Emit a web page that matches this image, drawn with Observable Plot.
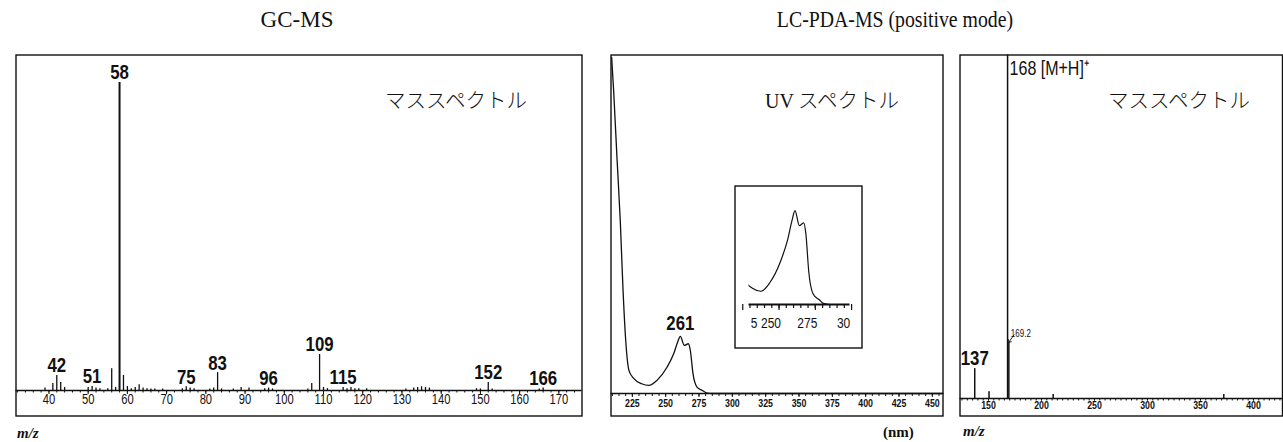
<!DOCTYPE html>
<html>
<head>
<meta charset="utf-8">
<script src="https://cdn.jsdelivr.net/npm/d3@7"></script>
<script src="https://cdn.jsdelivr.net/npm/@observablehq/plot@0.6"></script>
<style>
  body { margin: 0; background: #fff; }
  #fig { position: relative; width: 1283px; height: 442px; overflow: hidden; background: #fff; color: #111; }
  #fig svg { z-index: 1; }
  .t { position: absolute; z-index: 2; white-space: nowrap; line-height: 1; color: #111; }
  .title { font-family: "Liberation Serif", "Times New Roman", serif; font-size: 23px; transform: translateX(-50%) scaleX(0.86); transform-origin: 50% 50%; }
  .title.wide { transform: translateX(-50%); }
  .jp { font-family: "Noto Sans CJK JP", sans-serif; font-size: 20.5px; font-weight: 300; }
  .uv { font-family: "Liberation Serif", serif; font-size: 20px; font-weight: 400; margin-right: 4px; }
  .unit { font-family: "Liberation Serif", "Times New Roman", serif; font-size: 15px; font-weight: bold; }
</style>
</head>
<body>
<div id="fig">
  <div class="t title wide" style="left:297px; top:8px;">GC-MS</div>
  <div class="t title" style="left:895px; top:8px;">LC-PDA-MS (positive mode)</div>
  <div class="t jp" style="left:385px; top:89px;">マススペクトル</div>
  <div class="t jp" style="left:765px; top:89px;"><span class="uv">UV</span>スペクトル</div>
  <div class="t jp" style="left:1108px; top:89px;">マススペクトル</div>
  <div class="t unit" style="left:17px; top:426px; font-style:italic;">m/z</div>
  <div class="t unit" style="left:883px; top:425px;">(nm)</div>
  <div class="t unit" style="left:963px; top:424px; font-style:italic;">m/z</div>
</div>
<script>
// ---- GC-MS (EI) mass spectrum: m/z and relative intensity (%) ----
const gcMz = [39, 41, 42, 43, 44, 50, 51, 52, 53, 55, 56, 57, 58, 59, 60, 61, 62, 63, 64, 65, 66, 67, 69,
  74, 75, 76, 77, 81, 82, 83, 84, 87, 89, 91, 95, 96, 97, 106, 107, 109, 110, 111, 115, 116, 117, 118, 119,
  121, 131, 133, 134, 135, 136, 137, 149, 150, 152, 153, 165, 166];
const gcIntensity = [0.8, 2.3, 4.9, 2.6, 1.0, 1.0, 1.3, 0.8, 0.6, 0.6, 7.1, 1.0, 100, 4.9, 1.3, 0.6, 1.0, 1.9, 0.8, 0.6, 0.5, 0.5, 0.5,
  0.6, 1.2, 0.8, 0.6, 0.5, 0.8, 5.8, 0.5, 0.5, 1.0, 0.8, 0.6, 0.8, 0.5, 0.5, 2.3, 11.7, 1.0, 0.6, 1.0, 0.6, 1.0, 0.6, 0.6,
  0.6, 0.5, 0.8, 1.0, 1.2, 1.0, 0.8, 0.6, 0.5, 2.6, 0.5, 0.5, 0.8];
const gcLabeled = [42, 51, 58, 75, 83, 96, 109, 115, 152, 166];
const gcTicks = [40, 50, 60, 70, 80, 90, 100, 110, 120, 130, 140, 150, 160, 170];

// ---- UV spectrum (PDA): wavelength (nm) and absorbance (relative) ----
const uvNm = [209.5, 211, 213.5, 216, 218, 220, 222.5, 226, 232, 237.5, 243.5, 251, 256, 259, 261, 264, 267,
  268.5, 270.5, 273.5, 277.5, 280.5, 285, 458];
const uvAbs = [1.0, 0.90, 0.70, 0.51, 0.31, 0.16, 0.068, 0.045, 0.029, 0.024, 0.039, 0.078, 0.118, 0.153, 0.170, 0.143, 0.148,
  0.128, 0.059, 0.019, 0.009, 0.002, 0, 0];
const uvLabeled = [261];
const uvTicks = [225, 250, 275, 300, 325, 350, 375, 400, 425, 450];
const insetTicks = [225, 250, 275, 300];
const insetTickText = ["5", "250", "275", "30"];

// ---- LC-MS (ESI positive) mass spectrum ----
const lcMz = [137, 150.5, 168, 169.2, 211, 372];
const lcIntensity = [8.7, 2.0, 100, 16.4, 1.2, 1.2];
const lcTicks = [150, 200, 250, 300, 350, 400];

const INK = "#111";
const SANS = '"Liberation Sans", Arial, sans-serif';
const fig = document.getElementById("fig");

const gc = gcMz.map((mz, i) => ({mz, v: gcIntensity[i]}));
const uv = uvNm.map((nm, i) => ({nm, a: uvAbs[i]}));
const lc = lcMz.map((mz, i) => ({mz, v: lcIntensity[i]}));
const at = (rows, key, x) => rows.find(d => d[key] === x);

// Narrow the instrument lettering horizontally around each text's anchor.
function condense(svg, f) {
  svg.querySelectorAll("text").forEach(el => {
    const t = el.getAttribute("transform") || "";
    el.setAttribute("transform", `${t} scale(${f},1)`);
  });
}

// A boxed panel; (left, top, right, bottom) is the outer box on the page,
// baseline is where the x axis runs, plotLeft/plotRight bound the data area.
function panel({left, top, right, bottom, baseline, plotLeft = left, plotRight = right, x, y, marks}) {
  const pad = 1.5;
  const svg = Plot.plot({
    width: right - left + 2 * pad,
    height: bottom - top + 2 * pad,
    marginLeft: plotLeft - left + pad,
    marginRight: right - plotRight + pad,
    marginTop: pad,
    marginBottom: bottom - baseline + pad,
    x: {...x, axis: null},
    y: {...y, axis: null},
    style: {background: "white", color: INK, overflow: "visible"},
    marks: [
      ...marks,
      Plot.frame({stroke: INK, strokeWidth: 1.4,
        insetLeft: -(plotLeft - left), insetRight: -(right - plotRight), insetBottom: -(bottom - baseline)})
    ]
  });
  condense(svg, 0.8);
  svg.style.position = "absolute";
  svg.style.left = (left - pad) + "px";
  svg.style.top = (top - pad) + "px";
  fig.appendChild(svg);
}

const minor = (opts) => ({anchor: "bottom", label: null, tickFormat: () => "", stroke: INK, ...opts});
const major = (opts) => ({anchor: "bottom", label: null, fontFamily: SANS, stroke: INK, ...opts});

// GC-MS
panel({
  left: 15.5, top: 54.5, right: 581.5, bottom: 415.5, baseline: 390,
  x: {domain: [31.6, 175.9]},
  y: {domain: [0, 108.9]},
  marks: [
    Plot.ruleX(gc, {x: "mz", y1: 0, y2: "v", stroke: INK, strokeWidth: d => d.v > 50 ? 2 : 1.3}),
    Plot.ruleY([0], {stroke: INK, strokeWidth: 1.3}),
    Plot.axisX(d3.range(32, 176, 2), minor({tickSize: 2.5})),
    Plot.axisX(gcTicks, major({tickSize: 4, tickPadding: 0, fontSize: 14})),
    Plot.text(gcLabeled, {x: d => d, y: d => at(gc, "mz", d).v, text: d => String(d),
      lineAnchor: "bottom", dy: -3, fontSize: 21, fontWeight: "bold", fontFamily: SANS, fill: INK})
  ]
});

// UV spectrum
panel({
  left: 610.5, top: 54.5, right: 942.5, bottom: 415.5, baseline: 393,
  x: {domain: [209, 458]},
  y: {domain: [0, 1.0074]},
  marks: [
    Plot.ruleY([0], {stroke: INK, strokeWidth: 1.3}),
    Plot.line(uv, {x: "nm", y: "a", stroke: INK, strokeWidth: 1.3, curve: "monotone-x"}),
    Plot.axisX(d3.range(210, 458, 5), minor({tickSize: 3})),
    Plot.axisX(uvTicks, major({tickSize: 4, tickPadding: 2, fontSize: 11, fontWeight: "bold"})),
    Plot.text(uvLabeled, {x: d => d, y: d => at(uv, "nm", d).a, text: d => String(d),
      lineAnchor: "bottom", dy: -6, fontSize: 21, fontWeight: "bold", fontFamily: SANS, fill: INK})
  ]
});

// Inset: enlarged view of the 261 nm band
panel({
  left: 734, top: 185, right: 861, bottom: 347, baseline: 303.5, plotLeft: 748, plotRight: 849,
  x: {domain: [229.3, 298.9]},
  y: {domain: [0, 0.2148]},
  marks: [
    Plot.ruleY([0], {stroke: INK, strokeWidth: 2}),
    Plot.line(uv, {x: "nm", y: "a", stroke: INK, strokeWidth: 1.2, curve: "monotone-x", clip: true}),
    Plot.axisX(d3.range(230, 300, 5), minor({tickSize: 4, strokeWidth: 1.2})),
    Plot.axisX(insetTicks, minor({tickSize: 6, strokeWidth: 1.2})),
    Plot.text(insetTicks.slice(1), {x: d => d, y: 0, text: (d, i) => insetTickText[i + 1], lineAnchor: "top", dy: 13, dx: -8,
      fontSize: 15, fontFamily: SANS, fill: INK}),
    Plot.text(insetTicks.slice(0, 1), {x: d => d, y: 0, text: (d, i) => insetTickText[i], lineAnchor: "top", dy: 13, dx: 8,
      textAnchor: "start", fontSize: 15, fontFamily: SANS, fill: INK})
  ]
});

// LC-MS
const lcMain = at(lc, "mz", 168), lcIso = at(lc, "mz", 169.2), lcFrag = at(lc, "mz", 137);
panel({
  left: 959.5, top: 54.5, right: 1282, bottom: 415.5, baseline: 398,
  x: {domain: [123.1, 427.4]},
  y: {domain: [0, 100]},
  marks: [
    Plot.ruleX(lc, {x: "mz", y1: 0, y2: "v", stroke: INK, strokeWidth: 1.5}),
    Plot.ruleY([0], {stroke: INK, strokeWidth: 1.3}),
    Plot.axisX(d3.range(125, 427, 5), minor({tickSize: 2.5})),
    Plot.axisX(lcTicks, major({tickSize: 2.5, tickPadding: 0, fontSize: 11, fontWeight: "bold"})),
    Plot.text([lcFrag], {x: "mz", y: "v", text: d => String(d.mz), lineAnchor: "bottom", dy: -4,
      fontSize: 21, fontWeight: "bold", fontFamily: SANS, fill: INK}),
    Plot.text([lcMain], {x: "mz", y: "v", text: d => `${d.mz} [M+H]⁺`, lineAnchor: "top", textAnchor: "start", dx: 2, dy: 6,
      fontSize: 20, fontFamily: SANS, fill: INK}),
    Plot.text([lcIso], {x: "mz", y: "v", text: d => d.mz.toFixed(1), lineAnchor: "bottom", textAnchor: "start", dx: 2, dy: -5,
      fontSize: 10, fontFamily: SANS, fill: INK}),
    Plot.vector([lcIso], {x: "mz", y: "v", length: 9, rotate: 215, anchor: "end", stroke: INK, strokeWidth: 0.8})
  ]
});
</script>
</body>
</html>
